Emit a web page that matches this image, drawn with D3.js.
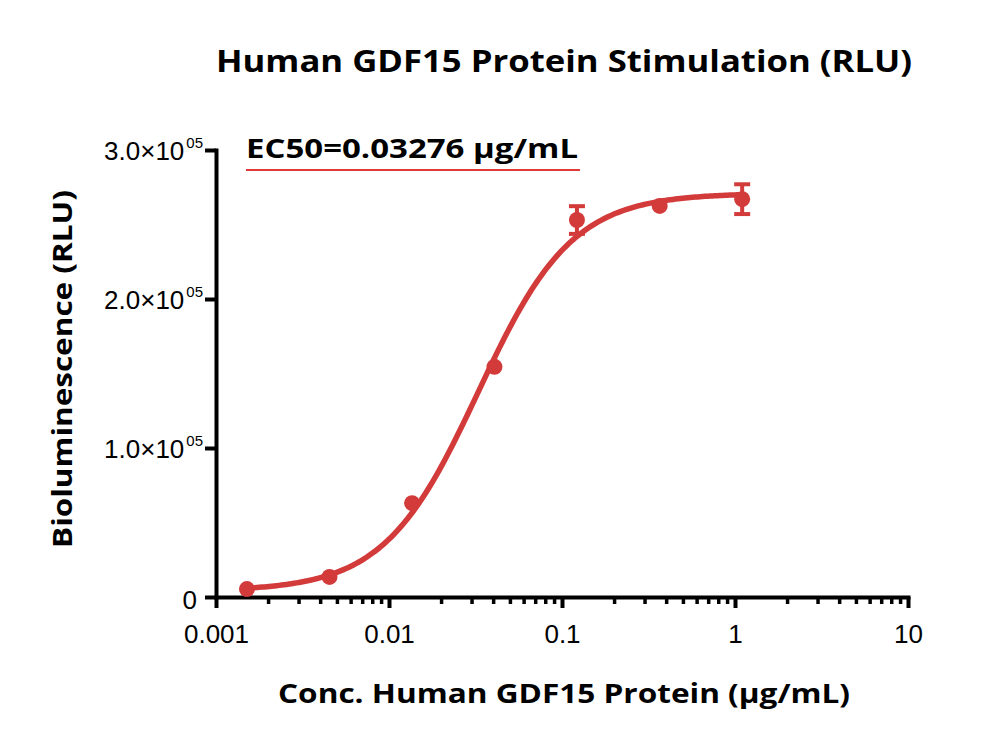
<!DOCTYPE html>
<html>
<head>
<meta charset="utf-8">
<script src="https://cdn.jsdelivr.net/npm/d3@7"></script>
<style>
  body { margin: 0; background: #fff; }
  svg { display: block; font-family: "Open Sans", sans-serif; }
</style>
</head>
<body>
<svg width="1000" height="744"></svg>
<script>
// measured concentrations (ug/mL) and mean RLU
const conc = [0.00151, 0.00453, 0.0136, 0.0407, 0.122, 0.367, 1.1]
const rlu = [5300, 13500, 63000, 154500, 253000, 262500, 267000]
const sem = [0, 0, 0, 0, 9300, 0, 10000]
// 4PL fit reported for the curve
const fitBottom = 4000, fitTop = 271000, ec50 = 0.03276, hill = 1.6
const yTicks = [0, 1e5, 2e5, 3e5]
const yTickLabels = ["0", "1.0×10", "2.0×10", "3.0×10"]
const xTicks = [0.001, 0.01, 0.1, 1, 10]
const xTickLabels = ["0.001", "0.01", "0.1", "1", "10"]

const red = "#d33b3b"
const svg = d3.select("svg"),
    margin = {top: 150, right: 92, bottom: 147, left: 216},
    width = 1000 - margin.left - margin.right,
    height = 744 - margin.top - margin.bottom

const g = svg.append("g").attr("transform", `translate(${margin.left},${margin.top})`)

const x = d3.scaleLog().domain([0.001, 10]).range([0, width])
const y = d3.scaleLinear().domain([0, 3e5]).range([height, 0])

// minor x ticks
const minor = []
for (let d = 0.001; d < 10; d *= 10)
  for (let k = 2; k <= 9; k++) minor.push(d * k)
g.append("g")
  .attr("transform", `translate(0,${height})`)
  .call(d3.axisBottom(x).tickValues(minor).tickSize(7).tickFormat(""))
  .call(a => a.select(".domain").remove())
  .call(a => a.selectAll("line").attr("stroke", "#000").attr("stroke-width", 3.5))

const xAxis = g.append("g")
  .attr("transform", `translate(0,${height})`)
  .call(d3.axisBottom(x).tickValues(xTicks).tickSize(11).tickSizeOuter(0)
    .tickFormat((d, i) => xTickLabels[i]))
xAxis.select(".domain").attr("stroke-width", 4).attr("stroke-linecap", "square")
xAxis.selectAll("line").attr("stroke-width", 4)
xAxis.selectAll("text").attr("font-size", 26).attr("y", 27).attr("dy", "0.72em").attr("fill", "#000")

const yAxis = g.append("g")
  .call(d3.axisLeft(y).tickValues(yTicks).tickSize(11).tickSizeOuter(0).tickFormat(""))
yAxis.select(".domain").attr("stroke-width", 4).attr("stroke-linecap", "square")
yAxis.selectAll("line").attr("stroke-width", 4)
yAxis.selectAll(".tick").each(function(d, i) {
  const t = d3.select(this).append("text")
    .attr("fill", "#000").attr("font-size", 26).attr("text-anchor", "end")
    .attr("dy", "0.36em")
  if (i === 0) {
    t.attr("x", -19).attr("dy", "0.45em").text(yTickLabels[i])
  } else {
    t.attr("x", -13)
    t.append("tspan").text(yTickLabels[i])
    t.append("tspan").attr("font-size", 15).attr("dx", 2).attr("dy", -12).text("05")
  }
})

// fitted curve
const fit = c => fitBottom + (fitTop - fitBottom) / (1 + Math.pow(ec50 / c, hill))
const curveX = d3.range(0, 201).map(i => Math.exp(Math.log(conc[0]) + i / 200 * (Math.log(conc[conc.length - 1]) - Math.log(conc[0]))))
const line = d3.line().x(d => x(d)).y(d => y(fit(d)))
g.append("path")
  .attr("d", line(curveX))
  .attr("fill", "none").attr("stroke", red).attr("stroke-width", 5.5)

const data = conc.map((c, i) => ({c, v: rlu[i], e: sem[i]}))
const err = g.append("g").attr("stroke", red).attr("stroke-width", 4)
data.filter(d => d.e > 0).forEach(d => {
  err.append("line").attr("x1", x(d.c)).attr("x2", x(d.c)).attr("y1", y(d.v - d.e)).attr("y2", y(d.v + d.e))
  err.append("line").attr("x1", x(d.c) - 8).attr("x2", x(d.c) + 8).attr("y1", y(d.v - d.e)).attr("y2", y(d.v - d.e))
  err.append("line").attr("x1", x(d.c) - 8).attr("x2", x(d.c) + 8).attr("y1", y(d.v + d.e)).attr("y2", y(d.v + d.e))
})
g.selectAll("circle.pt").data(data).join("circle")
  .attr("class", "pt")
  .attr("cx", d => x(d.c)).attr("cy", d => y(d.v)).attr("r", 8)
  .attr("fill", red)

// EC50 label
svg.append("text")
  .attr("x", 246).attr("y", 158)
  .attr("font-size", 26).attr("font-weight", "bold")
  .attr("textLength", 332).attr("lengthAdjust", "spacingAndGlyphs")
  .text("EC50=0.03276 μg/mL")
svg.append("line")
  .attr("x1", 246).attr("x2", 580).attr("y1", 170).attr("y2", 170)
  .attr("stroke", "#e23a3a").attr("stroke-width", 2)

// titles
svg.append("text")
  .attr("x", 564).attr("y", 72).attr("text-anchor", "middle")
  .attr("font-size", 31).attr("font-weight", "bold")
  .attr("textLength", 696).attr("lengthAdjust", "spacingAndGlyphs")
  .text("Human GDF15 Protein Stimulation (RLU)")
svg.append("text")
  .attr("x", 564).attr("y", 703).attr("text-anchor", "middle")
  .attr("font-size", 26).attr("font-weight", "bold")
  .attr("textLength", 572).attr("lengthAdjust", "spacingAndGlyphs")
  .text("Conc. Human GDF15 Protein (μg/mL)")
svg.append("text")
  .attr("transform", "translate(72,369) rotate(-90)")
  .attr("text-anchor", "middle")
  .attr("font-size", 26).attr("font-weight", "bold")
  .attr("textLength", 358).attr("lengthAdjust", "spacingAndGlyphs")
  .text("Bioluminescence (RLU)")
</script>
</body>
</html>
